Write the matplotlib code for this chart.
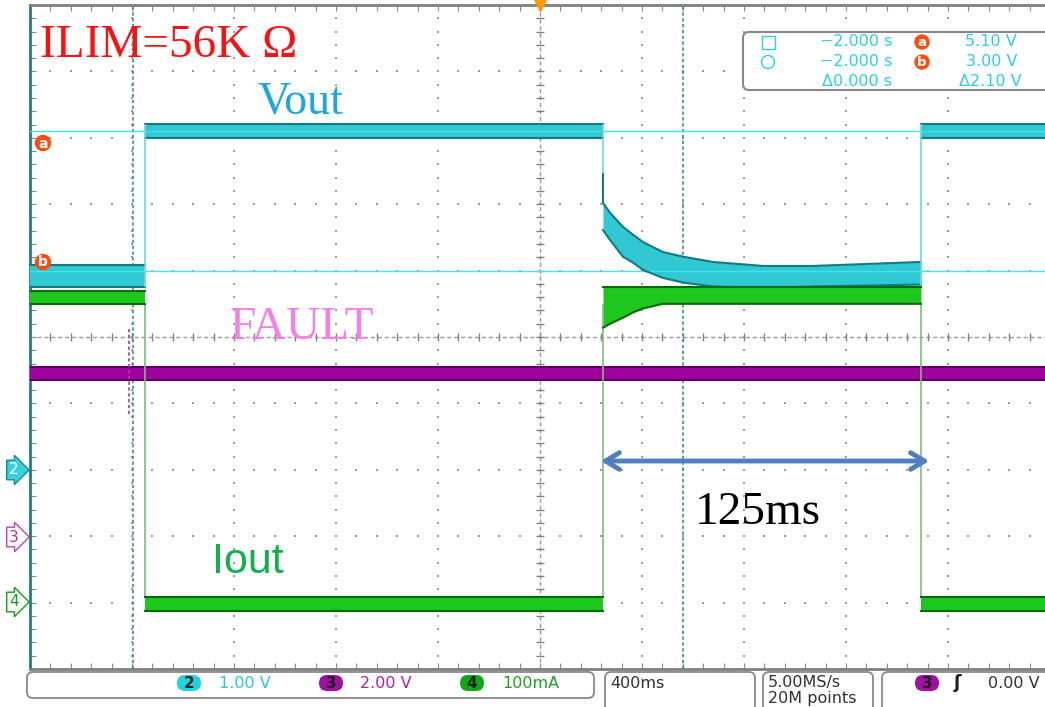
import numpy as np
import matplotlib
matplotlib.use('Agg')
import matplotlib.pyplot as plt
from matplotlib.patches import FancyBboxPatch, Circle

W, H = 1045, 707

# 时间轴 (s), 400ms/div
t_start, t_end = -2.0, 2.0
t_rise1, t_fall, t_rise2 = -1.549, 0.247, 1.494

# Vout (CH2, V)
vout_low = [2.76, 3.09]
vout_high = [5.00, 5.21]
decay_t = [0.247, 0.275, 0.325, 0.365, 0.404, 0.482, 0.561, 0.678, 0.875, 1.071, 1.494]
decay_hi = [4.02, 3.87, 3.66, 3.54, 3.43, 3.28, 3.21, 3.13, 3.07, 3.07, 3.13]
decay_lo = [3.61, 3.46, 3.21, 3.12, 3.01, 2.89, 2.82, 2.76, 2.74, 2.76, 2.79]
cursor_a, cursor_b = 5.10, 3.00

# FAULT (CH3, V)
fault_band = [4.70, 5.09]
fault_glitch_t = -1.612
fault_glitch_v = [3.67, 6.30]

# Iout (CH4, mA)
iout_on = [450, 470]
iout_off = [-12, 9]
iout_fault_hi = 476
iout_fault_t = [0.247, 0.275, 0.325, 0.365, 0.404, 0.482, 1.494]
iout_fault_lo = [414, 420, 429, 437, 443, 450, 450]

glitch_t = [-1.596, 0.561]

cyan_fc, cyan_ec = '#30c8d2', '#137b7f'
green_fc, green_ec = '#1dc71d', '#0a6a0a'
mag_fc, mag_ec = '#a0009e', '#5c0060'
grid_c = '#9c9c9c'


def band(ax, t, lo, hi, fc, ec):
    ax.fill_between(t, lo, hi, color=fc, lw=0)
    ax.plot(t, hi, color=ec, lw=1.5)
    ax.plot(t, lo, color=ec, lw=1.5)


fig = plt.figure(figsize=(W / 100, H / 100), dpi=100)
ax = fig.add_axes([30 / W, (H - 669) / H, 1020 / W, 664 / H])
ax.set_xlim(t_start, t_end)
ax.set_ylim(-5, 5)

# 网格
x_minor = np.arange(-2, 2.001, 0.08)
y_minor = np.arange(-5, 5.001, 0.2)
for gx in np.arange(-1.6, 1.61, 0.4):
    if abs(gx) > 1e-6:
        ax.plot(np.full_like(y_minor, gx), y_minor, 's', ms=1.5, mew=0, color=grid_c)
for gy in range(-4, 5):
    if gy != 0:
        ax.plot(x_minor, np.full_like(x_minor, gy), 's', ms=1.5, mew=0, color=grid_c)
ax.axhline(0, color='#9a9a9a', lw=1, ls=(0, (3, 2)))
ax.plot(x_minor, np.zeros_like(x_minor), '|', ms=6, color='#808080')
ax.axvline(0, color='#9a9a9a', lw=1, ls=(0, (3, 2)))
ax.plot(np.zeros_like(y_minor), y_minor, '_', ms=6, color='#808080')
ax.set_xticks(x_minor)
ax.set_yticks(y_minor)
ax.tick_params(direction='in', length=4, color='#888888', top=True, right=False,
               labelbottom=False, labelleft=False)
for s in ['top', 'bottom']:
    ax.spines[s].set_color('#7f7f7f')
    ax.spines[s].set_linewidth(2)
ax.spines['right'].set_visible(False)
ax.spines['left'].set_color('#1f7f80')
ax.spines['left'].set_linewidth(2)
ax.plot([0], [5], 'v', ms=9, color='#ff9a00', clip_on=False, zorder=10)
for gt in glitch_t:
    ax.axvline(gt, color='#3d8f8f', lw=1.2, ls=(0, (2, 1.5)))

# CH2 Vout
ax2 = ax.twinx()
ax2.set_ylim(-3, 7)
ax2.axis('off')
ax2.axhline(cursor_a, color='#40e4ee', lw=1)
ax2.axhline(cursor_b, color='#40e4ee', lw=1)
band(ax2, [t_start, t_rise1], [vout_low[0]] * 2, [vout_low[1]] * 2, cyan_fc, cyan_ec)
band(ax2, [t_rise1, t_fall], [vout_high[0]] * 2, [vout_high[1]] * 2, cyan_fc, cyan_ec)
band(ax2, decay_t, decay_lo, decay_hi, cyan_fc, cyan_ec)
band(ax2, [t_rise2, t_end], [vout_high[0]] * 2, [vout_high[1]] * 2, cyan_fc, cyan_ec)
ax2.vlines([t_rise1, t_rise2], vout_low[0], vout_high[1], color='#6fd6dc', lw=1.2)
ax2.vlines(t_fall, decay_hi[0], vout_high[1], color='#6fd6dc', lw=1.2)
ax2.vlines(t_fall, decay_hi[0], 4.47, color=cyan_ec, lw=1.5)

# CH3 FAULT
ax3 = ax.twinx()
ax3.set_ylim(-4, 16)
ax3.axis('off')
band(ax3, [t_start, t_end], [fault_band[0]] * 2, [fault_band[1]] * 2, mag_fc, mag_ec)
ax3.vlines(fault_glitch_t, fault_glitch_v[0], fault_glitch_v[1], color='#a040a0', lw=1.2,
           ls=(0, (2, 1.5)))

# CH4 Iout
ax4 = ax.twinx()
ax4.set_ylim(-100, 900)
ax4.axis('off')
ax4.vlines([t_rise1, t_fall, t_rise2], iout_off[1], iout_on[0], color='#7abf7a', lw=1.2)
band(ax4, [t_start, t_rise1], [iout_on[0]] * 2, [iout_on[1]] * 2, green_fc, green_ec)
band(ax4, [t_rise1, t_fall], [iout_off[0]] * 2, [iout_off[1]] * 2, green_fc, green_ec)
band(ax4, iout_fault_t, iout_fault_lo, [iout_fault_hi] * len(iout_fault_t), green_fc, green_ec)
band(ax4, [t_rise2, t_end], [iout_off[0]] * 2, [iout_off[1]] * 2, green_fc, green_ec)

# 标注层 (像素坐标)
an = fig.add_axes([0, 0, 1, 1])
an.set_xlim(0, W)
an.set_ylim(H, 0)
an.axis('off')

serif = 'Liberation Serif'
an.text(40, 57, 'ILIM=56K Ω', color='#ff1010', fontsize=34, family=serif, va='baseline')
an.text(258, 114, 'Vout', color='#1aa7e8', fontsize=33, family=serif, va='baseline')
an.text(230, 339, 'FAULT', color='#f57ee8', fontsize=34, family=serif, va='baseline')
an.text(212, 573, 'Iout', color='#12b04a', fontsize=31, family='Liberation Sans', va='baseline')
an.text(695, 524, '125ms', color='black', fontsize=34, family=serif, va='baseline')
an.annotate('', xy=(598, 461), xytext=(932, 461),
            arrowprops=dict(arrowstyle='<->,head_length=1.0,head_width=0.6', color='#4f7fc0', lw=3.5))

# 光标 a / b 标记
for (cx, cy, lab) in [(43, 143, 'a'), (43, 262, 'b')]:
    an.add_patch(Circle((cx, cy), 7.5, color='#ff4a10', zorder=5))
    an.text(cx, cy + 0.5, lab, color='white', fontsize=10, fontweight='bold', ha='center', va='center', zorder=6)

# 通道标记
an.text(9, 470, '2', fontsize=11, color='white', va='center',
        bbox=dict(boxstyle='rarrow,pad=0.15', fc='#38d0e0', ec='#1a8a90', lw=1))
an.text(9, 537, '3', fontsize=11, color='#b030b0', va='center',
        bbox=dict(boxstyle='rarrow,pad=0.15', fc='white', ec='#c040c0', lw=1))
an.text(9, 602, '4', fontsize=11, color='#10a010', va='center',
        bbox=dict(boxstyle='rarrow,pad=0.15', fc='white', ec='#10a010', lw=1))

# 光标读数框
an.add_patch(FancyBboxPatch((743, 32), 320, 58, boxstyle='round,pad=0,rounding_size=6',
                            fc='white', ec='#888888', lw=1.5))
cur_c = '#2ccfe0'
an.add_patch(plt.Rectangle((762, 36), 13, 13, fill=False, ec=cur_c, lw=1))
an.add_patch(Circle((768, 62), 6.5, fill=False, ec=cur_c, lw=1))
an.text(892, 42, '−2.000 s', color=cur_c, fontsize=11.5, ha='right', va='center')
an.text(892, 62, '−2.000 s', color=cur_c, fontsize=11.5, ha='right', va='center')
an.text(892, 81, 'Δ0.000 s', color=cur_c, fontsize=11.5, ha='right', va='center')
an.text(1017, 42, '5.10 V', color=cur_c, fontsize=11.5, ha='right', va='center')
an.text(1017, 62, '3.00 V', color=cur_c, fontsize=11.5, ha='right', va='center')
an.text(1022, 81, 'Δ2.10 V', color=cur_c, fontsize=11.5, ha='right', va='center')
for (cy, lab) in [(42, 'a'), (62, 'b')]:
    an.add_patch(Circle((922, cy), 7, color='#ff4a10'))
    an.text(922, cy + 0.5, lab, color='white', fontsize=9.5, fontweight='bold', ha='center', va='center')


# 底部状态栏
def box(x0, x1, y0=672, y1=698):
    an.add_patch(FancyBboxPatch((x0, y0), x1 - x0, y1 - y0, boxstyle='round,pad=0,rounding_size=6',
                                fc='white', ec='#888888', lw=1.3))


def pill(cx, cy, lab, fc, tc='#202020'):
    an.add_patch(FancyBboxPatch((cx - 12, cy - 8), 24, 16, boxstyle='round,pad=0,rounding_size=8',
                                fc=fc, ec='none'))
    an.text(cx, cy, lab, color=tc, fontsize=11, fontweight='bold', ha='center', va='center')


box(27, 594)
pill(189, 683, '2', '#22d3dd')
an.text(219, 683, '1.00 V', color='#28c8e0', fontsize=11.5, va='center')
pill(331, 683, '3', '#a010a0')
an.text(360, 683, '2.00 V', color='#b020b0', fontsize=11.5, va='center')
pill(472, 683, '4', '#10a810')
an.text(502, 683, '100mA', color='#20a020', fontsize=11.5, va='center')

box(605, 755, 672, 712)
an.text(610, 683, '400ms', color='#303030', fontsize=11.5, va='center')
box(763, 873, 672, 712)
an.text(768, 683, '5.00MS/s', color='#303030', fontsize=11.5, va='center')
an.text(768, 699, '20M points', color='#303030', fontsize=11.5, va='center')
box(882, 1060, 672, 712)
pill(927, 683, '3', '#a010a0')
an.text(954, 683, 'ʃ', color='#202020', fontsize=13, fontweight='bold', va='center')
an.text(1040, 683, '0.00 V', color='#303030', fontsize=11.5, ha='right', va='center')

fig.savefig('out.png', dpi=100)
